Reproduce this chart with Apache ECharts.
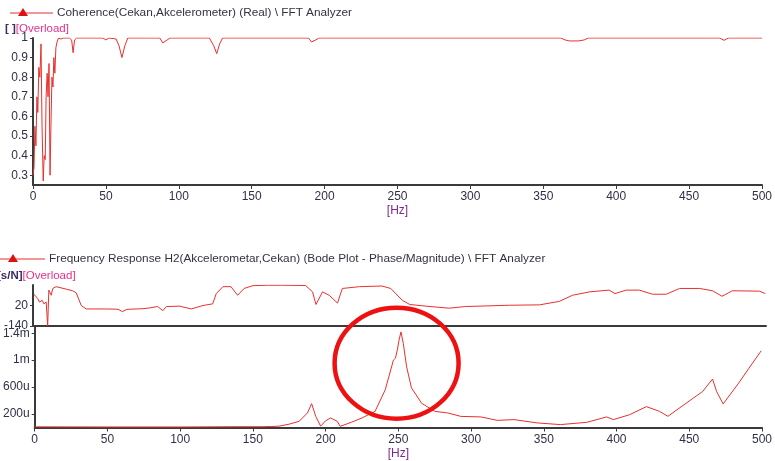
<!DOCTYPE html>
<html>
<head>
<meta charset="utf-8">
<script src="https://cdn.jsdelivr.net/npm/echarts@6/dist/echarts.min.js"></script>
<style>html,body{margin:0;padding:0;background:#fff}#c{width:775px;height:461px}</style>
</head>
<body>
<div id="c"></div>
<script>
// ---------- data ----------
var xTicks = [0, 50, 100, 150, 200, 250, 300, 350, 400, 450, 500];
var cohTicks = [0.3, 0.4, 0.5, 0.6, 0.7, 0.8, 0.9, 1];
var phaseTicks = [-140, 20];
var magTicks = [200, 600, 1000, 1400]; // micro-units

var cohFreq = [0, 0.7, 1.3, 2, 2.7, 3.3, 4, 4.7, 5.5, 6.2, 7, 7.7, 8.4, 9, 9.7, 10.3, 11, 11.7, 12.3, 13, 13.7, 14.3, 15, 15.7, 16.5, 17.5, 19, 21, 25, 26.5, 27.5, 28.5, 30, 48, 50, 52, 57, 59, 61, 63, 65, 87, 89, 90, 92, 94, 121, 124, 126, 128, 130, 140, 141, 142, 189, 191, 192, 194, 196, 362, 365, 368, 374, 378, 381, 471, 474, 477, 500];
var cohVal = [0.30, 0.34, 0.55, 0.45, 0.70, 0.62, 0.85, 0.80, 0.97, 0.55, 0.27, 0.40, 0.38, 0.70, 0.82, 0.70, 0.87, 0.30, 0.55, 0.80, 0.75, 0.90, 0.82, 0.95, 0.98, 1.0, 0.995, 1.0, 1.0, 0.99, 0.925, 0.99, 1.0, 1.0, 0.99, 1.0, 0.995, 0.96, 0.90, 0.96, 1.0, 1.0, 0.975, 0.965, 0.99, 1.0, 1.0, 0.96, 0.92, 0.97, 1.0, 1.0, 0.99, 1.0, 1.0, 0.98, 0.975, 0.99, 1.0, 1.0, 0.99, 0.985, 0.985, 0.99, 1.0, 1.0, 0.988, 1.0, 1.0];

var phaseFreq = [0.5, 1.7, 3.3, 4.4, 6.3, 7.4, 9, 10, 10.8, 12.4, 13.5, 15.8, 22.6, 27, 29.5, 32.9, 36.3, 50, 58, 61, 64, 75, 79.5, 85, 88.6, 91, 100, 108, 116, 122.6, 125, 129.6, 135, 139.6, 144, 150, 160, 170, 186, 190.7, 193, 197.5, 202, 207.7, 211, 222.7, 238, 244, 252, 257, 268, 284, 295, 325, 345.5, 359, 368, 380, 393, 397, 404.6, 413.6, 422.6, 432, 441, 454.7, 463.6, 470, 477, 495.6, 499.5];
var phaseVal = [110, 100, 73, 47, 60, 33, 47, -140, 140, 100, 153, 167, 148, 135, 119, 20, -7, -7, -9, -28, -10, -5, 1, 12, -20, 12, 15, -7, 20, 33, 113, 167, 167, 100, 153, 175, 178, 178, 176, 126, 28, 126, 100, 39, 153, 167, 172, 153, 60, 28, 15, -1, 12, 22, 25, 52, 100, 127, 140, 113, 140, 140, 108, 108, 153, 153, 135, 92, 135, 132, 113];

var magFreq = [0, 50, 100, 139, 157, 163, 168, 175, 181.8, 187.5, 190.4, 193.2, 196.6, 200, 203.4, 208, 210, 218, 225, 234, 241, 246.6, 248, 249.3, 250.5, 251.8, 253.4, 255.7, 259, 266, 275, 284, 293, 306.8, 318, 329.6, 345.5, 361.4, 379.6, 393.2, 397.8, 409, 420.5, 429.5, 435.3, 447.8, 459.2, 466, 468.8, 473.3, 484, 491, 499.5];
var magVal = [10, 8, 8, 12, 12, 15, 20, 50, 92, 216, 354, 166, 20, 100, 142, 92, 17, 80, 142, 240, 560, 1000, 1030, 1150, 1300, 1420, 1250, 900, 590, 360, 240, 216, 165, 157, 106, 117, 68, 43, 77, 157, 117, 190, 310, 240, 166, 360, 535, 720, 535, 350, 660, 880, 1140];

var peakFreq = 248.8, peakMag = 956; // annotation centre (data coords)

// ---------- helpers ----------
function pairs(xs, ys) { return xs.map(function (x, i) { return [x, ys[i]]; }); }
var FONT = 'Liberation Sans';
var LBL = '#30304a';
var RED = '#e8302f';
var AX = '#3a3a3a';

function xAxisCfg(grid, showLabels) {
  return {
    type: 'value', gridIndex: grid, min: 0, max: 500, interval: 50,
    axisLine: { show: true, onZero: false, lineStyle: { color: AX, width: 2 } },
    axisTick: { show: showLabels, length: 4, lineStyle: { color: AX } },
    axisLabel: { show: showLabels, margin: 6, color: LBL, fontFamily: FONT, fontSize: 12 },
    splitLine: { show: false },
    name: showLabels ? '[Hz]' : '', nameLocation: 'middle', nameGap: 20,
    nameTextStyle: { color: '#7a2a8a', fontFamily: FONT, fontSize: 12 }
  };
}
function yAxisCfg(grid, min, max, ticks, fmt) {
  return {
    type: 'value', gridIndex: grid, min: min, max: max,
    axisLine: { show: true, onZero: false, lineStyle: { color: AX, width: 2 } },
    axisTick: { show: true, length: 3, customValues: ticks, lineStyle: { color: AX } },
    axisLabel: { show: true, margin: 5, customValues: ticks, formatter: fmt, color: LBL, fontFamily: FONT, fontSize: 12 },
    splitLine: { show: false }
  };
}
function lineSeries(xi, yi, data) {
  return {
    type: 'line', xAxisIndex: xi, yAxisIndex: yi, data: data, showSymbol: false,
    symbol: 'none', lineStyle: { color: RED, width: 1 }, animation: false
  };
}

var chart = echarts.init(document.getElementById('c'), null, { renderer: 'canvas' });

function legendGfx(id, y, x0, x1, tx, text) {
  var tri = x0 + 13;
  return [
    { type: 'line', id: id + 'l', shape: { x1: x0, y1: y, x2: x1, y2: y }, style: { stroke: RED, lineWidth: 1.2 } },
    { type: 'polygon', id: id + 't', shape: { points: [[tri - 5, y + 3], [tri + 5, y + 3], [tri, y - 5]] }, style: { fill: '#e01010' } },
    { type: 'text', id: id + 'x', x: tx, y: y, style: { text: text, fill: '#333340', font: '11.8px ' + FONT, verticalAlign: 'middle' } }
  ];
}
function unitGfx(id, x, y, unit) {
  return {
    type: 'text', id: id, x: x, y: y,
    style: {
      text: '{a|' + unit + '}{b|[Overload]}', verticalAlign: 'middle',
      rich: {
        a: { fill: '#3a2a60', font: 'bold 11.5px ' + FONT },
        b: { fill: '#e8308a', font: '11.5px ' + FONT }
      }
    }
  };
}

var baseGfx = [].concat(
  legendGfx('lg1', 13, 10, 53, 57, 'Coherence(Cekan,Akcelerometer) (Real) \\ FFT Analyzer'),
  legendGfx('lg2', 259, 0, 45, 49, 'Frequency Response H2(Akcelerometar,Cekan) (Bode Plot - Phase/Magnitude) \\ FFT Analyzer'),
  [unitGfx('u1', 5, 29, '[ ]'), unitGfx('u2', -3, 276, '[s/N]')]
);

chart.setOption({
  animation: false,
  backgroundColor: '#ffffff',
  grid: [
    { left: 33, right: 9, top: 38, height: 147 },
    { left: 33, right: 9, top: 285, height: 41 },
    { left: 33, right: 9, top: 326.5, height: 101 }
  ],
  xAxis: [xAxisCfg(0, true), xAxisCfg(1, false), xAxisCfg(2, true)],
  yAxis: [
    yAxisCfg(0, 0.25, 1, cohTicks, function (v) { return v === 1 ? '1' : v.toFixed(1); }),
    yAxisCfg(1, -140, 180, phaseTicks, function (v) { return String(v); }),
    yAxisCfg(2, 0, 1500, magTicks, function (v) { return v >= 1000 ? (parseFloat((v / 1000).toFixed(2)) + 'm') : (Math.round(v) + 'u'); })
  ],
  series: [
    lineSeries(0, 0, pairs(cohFreq, cohVal)),
    lineSeries(1, 1, pairs(phaseFreq, phaseVal)),
    lineSeries(2, 2, pairs(magFreq, magVal))
  ],
  graphic: { elements: baseGfx }
});

var c = chart.convertToPixel({ gridIndex: 2 }, [peakFreq, peakMag]);
chart.setOption({
  graphic: {
    elements: baseGfx.concat([{
      type: 'ellipse', id: 'ring', z: 100,
      shape: { cx: c[0], cy: c[1], rx: 62, ry: 55.5 },
      style: { fill: 'none', stroke: '#ee1111', lineWidth: 4.5 }
    }])
  }
});
</script>
</body>
</html>
